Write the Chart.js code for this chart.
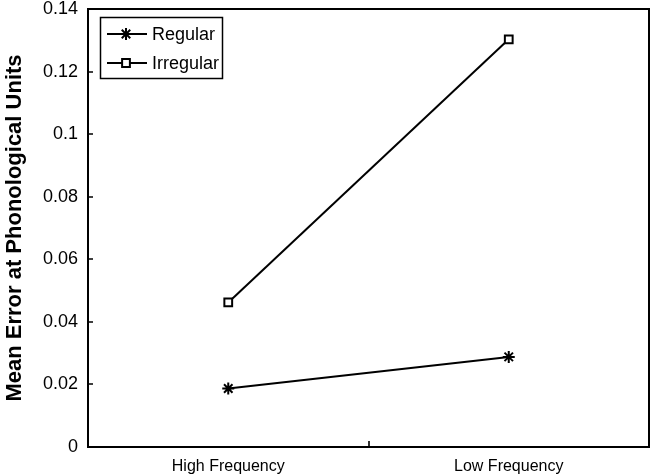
<!DOCTYPE html>
<html>
<head>
<meta charset="utf-8">
<script src="https://cdn.jsdelivr.net/npm/chart.js@4/dist/chart.umd.min.js"></script>
<style>
  html, body { margin: 0; padding: 0; background: #fff; }
  #wrap { width: 657px; height: 476px; position: relative; }
</style>
</head>
<body>
<div id="wrap"><canvas id="c" width="657" height="476"></canvas></div>
<script>
const categories = ['High Frequency', 'Low Frequency'];
const regularValues = [0.0187, 0.0288];
const irregularValues = [0.0462, 0.1303];
const yTicks = [0, 0.02, 0.04, 0.06, 0.08, 0.1, 0.12, 0.14];
const seriesNames = ['Regular', 'Irregular'];
const yTitle = 'Mean Error at Phonological Units';

const FONT = '"Liberation Sans", Arial, sans-serif';

const framePlugin = {
  id: 'frame',
  afterDraw(chart) {
    const ctx = chart.ctx;
    const a = chart.chartArea;
    const ys = chart.scales.y, xs = chart.scales.x;
    ctx.save();
    ctx.strokeStyle = '#000';
    ctx.lineWidth = 2;
    ctx.strokeRect(a.left, a.top, a.right - a.left, a.bottom - a.top);
    ctx.lineWidth = 1.6;
    ctx.beginPath();
    yTicks.forEach(v => {
      if (v === 0 || v === yTicks[yTicks.length - 1]) return;
      const p = Math.round(ys.getPixelForValue(v));
      ctx.moveTo(a.left, p); ctx.lineTo(a.left + 5, p);
    });
    for (let i = 0; i < categories.length - 1; i++) {
      const p = Math.round(xs.getPixelForValue(i + 0.5));
      ctx.moveTo(p, a.bottom); ctx.lineTo(p, a.bottom - 6);
    }
    ctx.stroke();

    // legend
    const bx = 100, by = 17, bw = 122, bh = 61;
    ctx.fillStyle = '#fff';
    ctx.fillRect(bx, by, bw, bh);
    ctx.lineWidth = 1.5;
    ctx.strokeRect(bx + 0.5, by + 0.5, bw, bh);
    const rows = [34, 63];
    chart.data.datasets.forEach((ds, i) => {
      const y = rows[i];
      ctx.strokeStyle = '#000';
      ctx.lineWidth = ds.borderWidth;
      ctx.beginPath();
      ctx.moveTo(107, y); ctx.lineTo(147, y);
      ctx.stroke();
      ctx.fillStyle = ds.pointBackgroundColor;
      ctx.strokeStyle = ds.pointBorderColor;
      ctx.lineWidth = ds.pointBorderWidth;
      Chart.helpers.drawPoint(ctx, {
        pointStyle: ds.pointStyle,
        radius: ds.pointRadius,
        borderWidth: ds.pointBorderWidth,
        rotation: 0
      }, 126, y);
      ctx.fillStyle = '#000';
      ctx.font = '18px ' + FONT;
      ctx.textBaseline = 'middle';
      ctx.textAlign = 'left';
      ctx.fillText(ds.label, 152, y + 1);
    });
    ctx.restore();
  }
};

new Chart(document.getElementById('c'), {
  type: 'line',
  data: {
    labels: categories,
    datasets: [
      {
        label: seriesNames[0],
        data: regularValues,
        borderColor: '#000',
        backgroundColor: '#000',
        borderWidth: 2,
        pointStyle: 'star',
        pointRadius: 6,
        pointBorderWidth: 2,
        pointBorderColor: '#000',
        pointBackgroundColor: '#000',
        tension: 0
      },
      {
        label: seriesNames[1],
        data: irregularValues,
        borderColor: '#000',
        backgroundColor: '#fff',
        borderWidth: 2,
        pointStyle: 'rect',
        pointRadius: 5.5,
        pointBorderWidth: 2,
        pointBorderColor: '#000',
        pointBackgroundColor: '#fff',
        tension: 0
      }
    ]
  },
  options: {
    responsive: false,
    animation: false,
    devicePixelRatio: 1,
    layout: { padding: { top: 0, right: 4, left: 0, bottom: 0 } },
    plugins: {
      legend: { display: false },
      tooltip: { enabled: false }
    },
    scales: {
      x: {
        type: 'category',
        offset: true,
        grid: { display: false },
        border: { display: false },
        ticks: {
          color: '#000',
          font: { family: FONT, size: 16 },
          padding: 2,
          maxRotation: 0
        },
        afterFit(scale) { scale.height = 29; scale.paddingLeft = 0; scale.paddingRight = 0; }
      },
      y: {
        min: 0,
        max: 0.14,
        grid: { display: false },
        border: { display: false },
        afterBuildTicks(scale) { scale.ticks = yTicks.map(v => ({ value: v })); },
        ticks: {
          color: '#000',
          font: { family: FONT, size: 18 },
          padding: 2,
          callback: v => String(+Number(v).toFixed(2))
        },
        title: {
          display: true,
          text: yTitle,
          color: '#000',
          font: { family: FONT, size: 22, weight: 'bold' },
          padding: { top: 2, bottom: 0 }
        },
        afterFit(scale) { scale.width = 88; scale.paddingTop = 9; scale.paddingBottom = 0; }
      }
    }
  },
  plugins: [framePlugin]
});
</script>
</body>
</html>
